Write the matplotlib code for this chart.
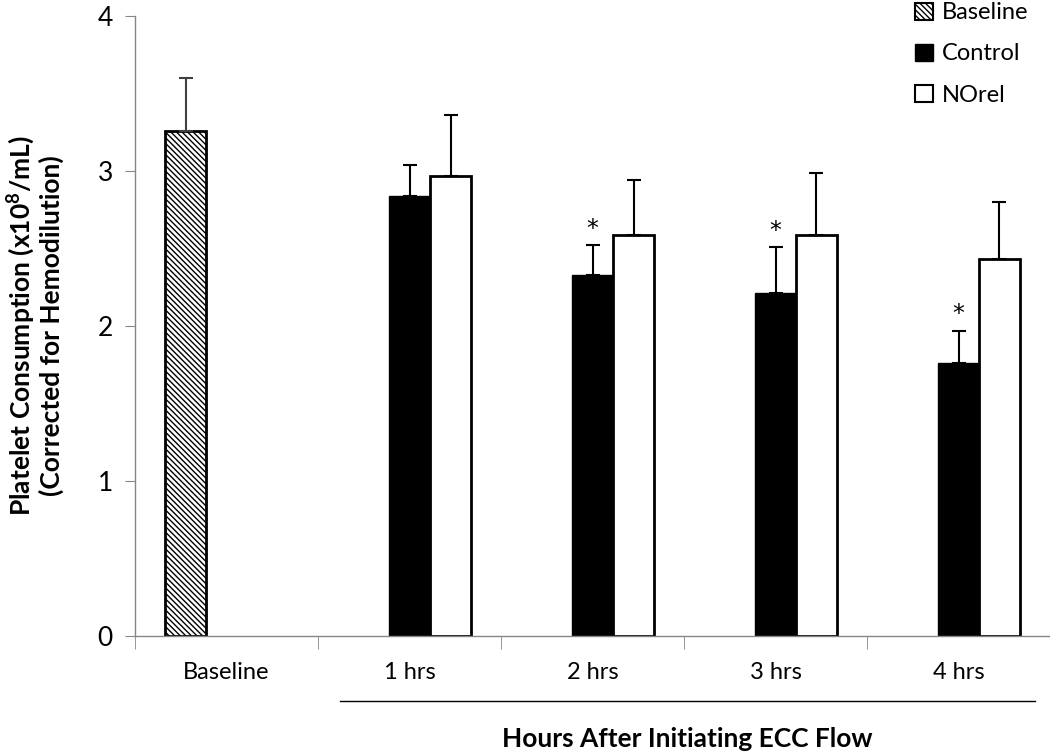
import numpy as np
from matplotlib import pyplot as plt
from matplotlib.patches import Patch

# ---- datos ----
categorias = ['Baseline', '1 hrs', '2 hrs', '3 hrs', '4 hrs']
baseline_val = [3.26, 0, 0, 0, 0]
baseline_err = [0.34, 0, 0, 0, 0]
control_val = [0, 2.84, 2.33, 2.21, 1.76]
control_err = [0, 0.20, 0.19, 0.30, 0.21]
norel_val = [0, 2.97, 2.59, 2.59, 2.43]
norel_err = [0, 0.39, 0.35, 0.40, 0.37]
signif = [False, False, True, True, True]  # asterisco sobre Control

plt.rcParams['font.family'] = ['Lato', 'DejaVu Sans']
plt.rcParams['mathtext.default'] = 'regular'
plt.rcParams['hatch.linewidth'] = 1.0
plt.rcParams['hatch.color'] = '#555555'

fig = plt.figure(figsize=(10.5, 7.54), dpi=100)
ax = fig.add_axes([0.1286, 0.1565, 0.8714, 0.8223])

x = np.arange(len(categorias))
w = 0.224
ax.bar(x[:1] - w, baseline_val[:1], w, color='white', edgecolor='black', linewidth=2,
       hatch='\\\\\\\\\\\\', yerr=[[0], baseline_err[:1]],
       error_kw=dict(ecolor='#404040', elinewidth=1.5, capsize=5, capthick=1.5), zorder=2)
ax.bar(x[1:], control_val[1:], w, color='black', edgecolor='black', linewidth=1,
       yerr=[np.zeros(4), control_err[1:]],
       error_kw=dict(ecolor='black', elinewidth=1.5, capsize=5, capthick=1.5), zorder=2)
ax.bar(x[1:] + w, norel_val[1:], w, color='white', edgecolor='black', linewidth=2,
       yerr=[np.zeros(4), norel_err[1:]],
       error_kw=dict(ecolor='black', elinewidth=1.5, capsize=5, capthick=1.5), zorder=2)

for i in range(len(categorias)):
    if signif[i]:
        ax.annotate('*', (x[i], control_val[i] + control_err[i]), xytext=(0, 3),
                    textcoords='offset points', ha='center', va='bottom', fontsize=17,
                    family='DejaVu Sans')

ax.set_xlim(-0.5, 4.5)
ax.set_ylim(0, 4)
ax.set_yticks([0, 1, 2, 3, 4])
ax.set_xticks(x)
ax.set_xticklabels(categorias, fontsize=17)
ax.set_xticks(np.arange(-0.5, 5.0, 1), minor=True)
ax.tick_params(axis='x', which='major', length=0, pad=19)
ax.tick_params(axis='x', which='minor', length=9, color='#868686')
ax.tick_params(axis='y', labelsize=19, length=7, color='#868686', pad=9)
for s in ['top', 'right']:
    ax.spines[s].set_visible(False)
for s in ['left', 'bottom']:
    ax.spines[s].set_color('#868686')
    ax.spines[s].set_linewidth(1)

ax.set_ylabel('Platelet Consumption (x10$^{8}$/mL)\n(Corrected for Hemodilution)',
              fontsize=19, fontweight='bold', labelpad=24, linespacing=1.1)

# linea bajo las horas y titulo del eje x
ax.plot([0.62, 4.42], [-0.105, -0.105], color='black', lw=1,
        transform=ax.get_xaxis_transform(), clip_on=False)
ax.text(2.52, -0.166, 'Hours After Initiating ECC Flow', transform=ax.get_xaxis_transform(),
        ha='center', va='center', fontsize=19, fontweight='bold')

handles = [Patch(facecolor='white', edgecolor='black', hatch='\\\\\\\\\\\\', linewidth=1.5),
           Patch(facecolor='black', edgecolor='black'),
           Patch(facecolor='white', edgecolor='black', linewidth=1.5)]
fig.legend(handles, ['Baseline', 'Control', 'NOrel'], loc='upper right',
           bbox_to_anchor=(1.0, 1.025), frameon=False, fontsize=17,
           handlelength=0.75, handleheight=0.75, handletextpad=0.4, labelspacing=0.85)

fig.savefig('out.png', dpi=100)
